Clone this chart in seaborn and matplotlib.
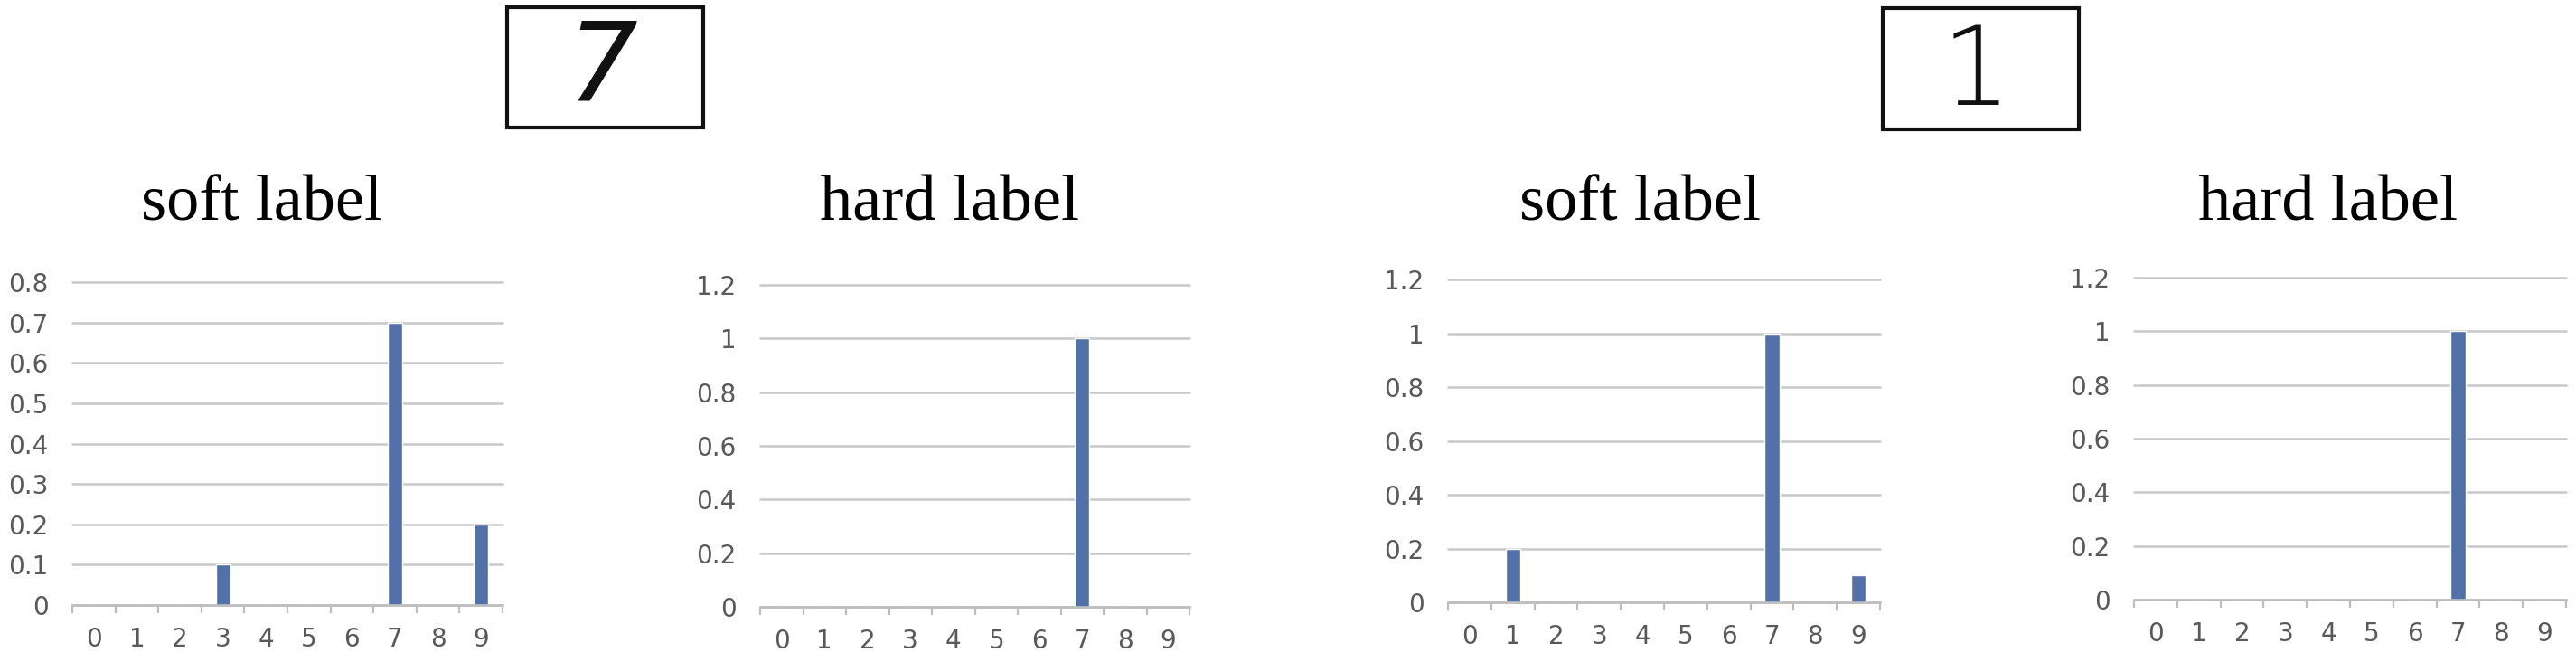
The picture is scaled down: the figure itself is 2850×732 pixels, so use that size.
import numpy as np
import matplotlib.pyplot as plt
import seaborn as sns
from matplotlib.patches import Rectangle

# =========================
# DATA
# =========================

classes = ["0", "1", "2", "3", "4", "5", "6", "7", "8", "9"]

soft_label_7 = [0, 0, 0, 0.1, 0, 0, 0, 0.7, 0, 0.2]
hard_label_7 = [0, 0, 0, 0, 0, 0, 0, 1.0, 0, 0]
soft_label_1 = [0, 0.2, 0, 0, 0, 0, 0, 1.0, 0, 0.1]
hard_label_1 = [0, 0, 0, 0, 0, 0, 0, 1.0, 0, 0]

yticks_soft_7 = [0, 0.1, 0.2, 0.3, 0.4, 0.5, 0.6, 0.7, 0.8]
yticks_default = [0, 0.2, 0.4, 0.6, 0.8, 1.0, 1.2]

titles = ["soft label", "hard label", "soft label", "hard label"]
digits = ["7", "1"]

# =========================
# STYLE
# =========================

sns.set_theme(style="white")
plt.rcParams["font.family"] = ["DejaVu Sans"]

W, H = 2850, 732
BAR = "#5271a9"
GRID = "#c8c8c8"
AXIS = "#bdbdbd"
TICK_TXT = "#595959"

fig = plt.figure(figsize=(W / 100, H / 100), dpi=100)


def px_axes(left, right, y_zero, y_top):
    # pixel box (from top-left) -> figure fraction
    return fig.add_axes([left / W, 1 - y_zero / H,
                         (right - left) / W, (y_zero - y_top) / H])


# (left, right, y of 0, y of top gridline) in pixels
panels = [
    (80, 556, 669, 312),
    (841, 1316, 671, 315),
    (1602, 2080, 666, 309),
    (2361, 2839, 663, 307),
]
series = [soft_label_7, hard_label_7, soft_label_1, hard_label_1]
ticks = [yticks_soft_7, yticks_default, yticks_default, yticks_default]
title_x = [290, 1051, 1815, 2576]

for (l, r, y0, yt), vals, yt_list, ttl, tx in zip(panels, series, ticks, titles, title_x):
    ax = px_axes(l, r, y0, yt)
    sns.barplot(x=classes, y=vals, color=BAR, saturation=1, width=0.34, ax=ax)

    ax.set_xlim(-0.5, 9.5)
    ax.set_ylim(0, yt_list[-1])
    ax.set_yticks(yt_list)
    ax.set_yticklabels([f"{v:g}" for v in yt_list])
    ax.set_xlabel("")
    ax.set_ylabel("")

    ax.yaxis.grid(True, color=GRID, lw=1.8)
    ax.xaxis.grid(False)
    ax.set_axisbelow(True)
    for gl in ax.get_ygridlines():
        gl.set_clip_on(False)

    for side in ["top", "left", "right"]:
        ax.spines[side].set_visible(False)
    ax.spines["bottom"].set_color(AXIS)
    ax.spines["bottom"].set_linewidth(1.8)

    ax.set_xticks(np.arange(-0.5, 10, 1), minor=True)
    ax.tick_params(axis="x", which="minor", length=6.5, width=1.6,
                   color=AXIS, bottom=True)
    ax.tick_params(axis="x", which="major", length=0, pad=17,
                   labelsize=20, labelcolor=TICK_TXT)
    ax.tick_params(axis="y", length=0, pad=19, labelsize=20,
                   labelcolor=TICK_TXT)

    fig.text(tx / W, 1 - 243 / H, ttl, ha="center", va="baseline",
             fontsize=52, family=["Liberation Serif"], color="black")

# =========================
# INPUT DIGIT BOXES
# =========================

boxes = [(561, 8, 778, 141), (2083, 9, 2300, 143)]
digit_pos = [(667, 77), (2186, 83)]

for (x0, y0, x1, y1), d, (dx, dy) in zip(boxes, digits, digit_pos):
    fig.patches.append(Rectangle((x0 / W, 1 - y1 / H), (x1 - x0) / W, (y1 - y0) / H,
                                 transform=fig.transFigure, fill=False,
                                 edgecolor="#111111", lw=3))
    fig.text(dx / W, 1 - dy / H, d, ha="center", va="center",
             fontsize=88, fontweight="light", color="#111111",
             style="italic" if d == "7" else "normal")

fig.savefig("out.png", dpi=100, facecolor="white")
